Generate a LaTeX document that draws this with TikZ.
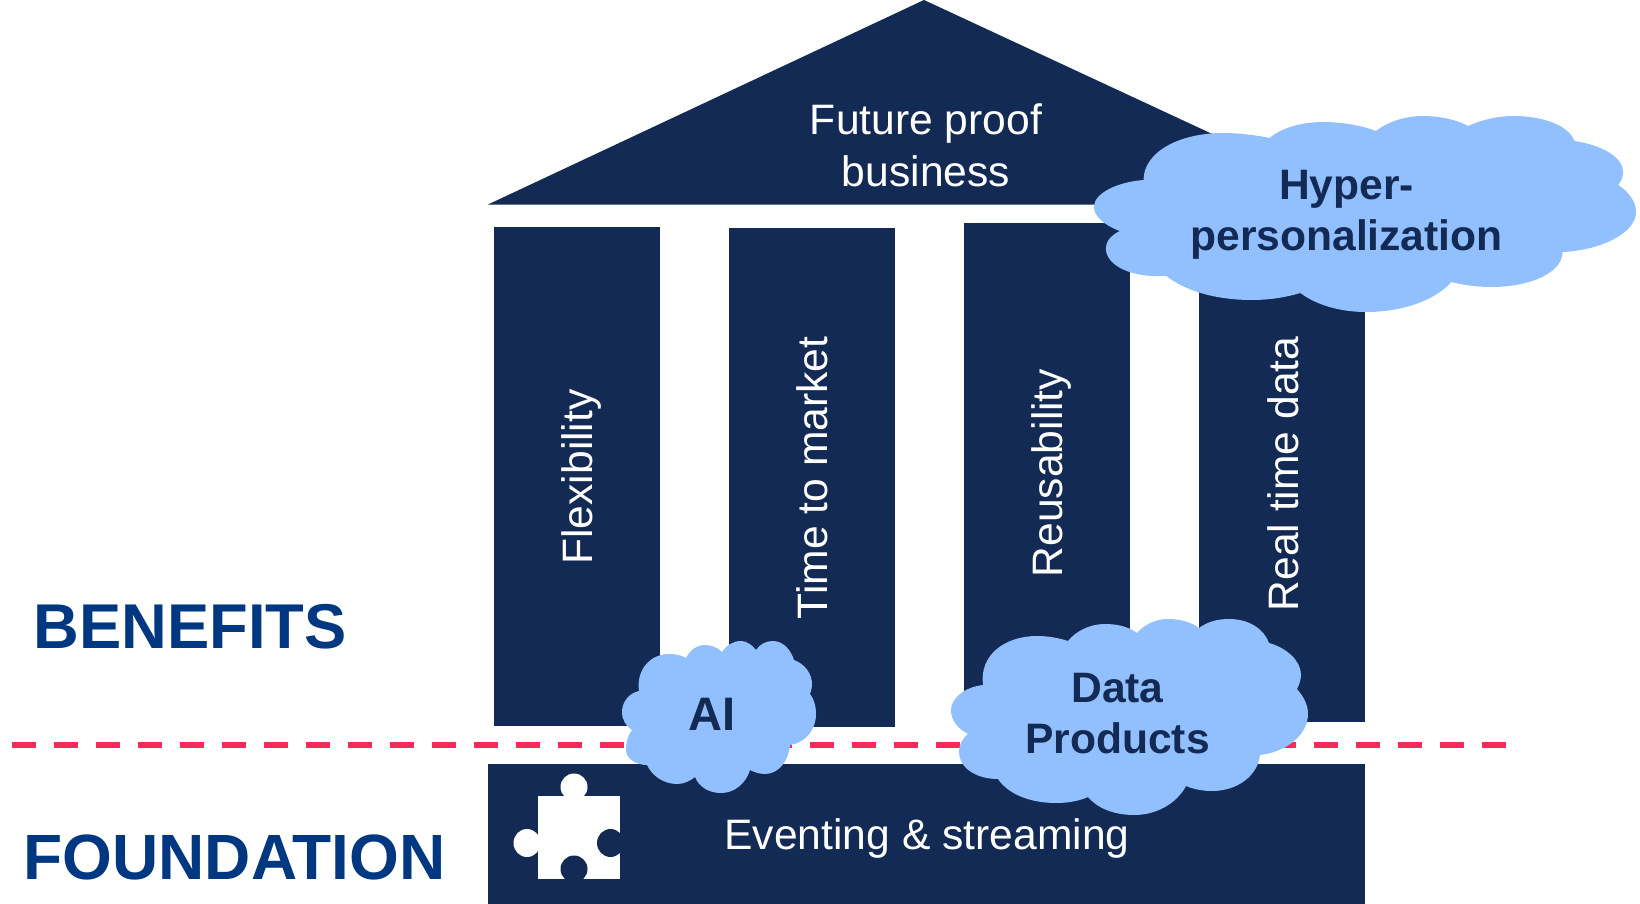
\documentclass[tikz,border=0pt]{standalone}
\usepackage{fontspec}
\setmainfont{Liberation Sans}
\definecolor{navy}{HTML}{132A54}
\definecolor{cloudblue}{HTML}{92C0FF}
\definecolor{headblue}{HTML}{003781}
\definecolor{dashred}{HTML}{F72B5A}
\tikzset{
  navyfill/.style={fill=navy,draw=none},
  cloudfill/.style={fill=cloudblue,draw=none},
  lighttext/.style={text=white,font=\fontsize{42.6}{52}\selectfont,align=center,inner sep=0pt},
  cloudtext/.style={text=navy,font=\bfseries\fontsize{42.6}{51}\selectfont,align=center,inner sep=0pt},
  headtext/.style={text=headblue,font=\bfseries\fontsize{64}{70}\selectfont,inner sep=0pt},
}
\begin{document}
\begin{tikzpicture}[x=1pt,y=-1pt]
\useasboundingbox (0,0) rectangle (1640,904);
% roof
\fill[navyfill] (924,0) -- (1364,204.5) -- (488,204.5) -- cycle;
% pillars
\fill[navyfill] (494,227) rectangle (660,725.5);
\fill[navyfill] (729,228) rectangle (895,726.5);
\fill[navyfill] (964,223) rectangle (1130,722);
\fill[navyfill] (1199,223) rectangle (1365,722);
% foundation
\fill[navyfill] (488,764) rectangle (1365,904);
% puzzle piece
\fill[white] (538,796) rectangle (620,879);
\fill[white] (574,787) ellipse (13.5 and 13.5);
\fill[white] (527,843) ellipse (13.5 and 14);
\fill[navy] (610.5,843) ellipse (13.5 and 14);
\fill[navy] (574,869) ellipse (13.5 and 13.5);
\fill[navy] (560,879) rectangle (588,884);
\fill[navy] (620,828) rectangle (626,858);
% dashed line
\coordinate (dashL) at (11.5,745);
\coordinate (dashR) at (1507,745);
\draw[dashred,line width=5.5pt,dash pattern=on 24pt off 18pt] (dashL) -- (dashR);
% hyper cloud
\begin{scope}[shift={(1080,0)},xscale=.9929,shift={(-1080,0)}]
\fill[cloudfill] (1144,180)
 .. controls (1144,152) and (1180,133) .. (1224,133)
 .. controls (1240,133) and (1256,135) .. (1271,138)
 .. controls (1284,127) and (1305,122) .. (1325,122)
 .. controls (1345,122) and (1365,126) .. (1378,131)
 .. controls (1390,122) and (1407,116) .. (1425,116)
 .. controls (1443,116) and (1460,120) .. (1471,126)
 .. controls (1484,120) and (1500,116) .. (1517,116)
 .. controls (1545,116) and (1572,125) .. (1578,141)
 .. controls (1605,145) and (1627,157) .. (1627,172)
 .. controls (1627,177) and (1625,181) .. (1622,185)
 .. controls (1633,192) and (1640,202) .. (1640,212)
 .. controls (1640,232) and (1607,250) .. (1566,252)
 .. controls (1566,272) and (1535,287) .. (1494,287)
 .. controls (1480,287) and (1466,285) .. (1454,282)
 .. controls (1438,300) and (1405,312) .. (1368,312)
 .. controls (1342,312) and (1318,305) .. (1302,293)
 .. controls (1288,297) and (1272,300) .. (1253,300)
 .. controls (1215,300) and (1185,290) .. (1167,276)
 .. controls (1130,278) and (1106,265) .. (1106,248)
 .. controls (1106,241) and (1112,235) .. (1120,231)
 .. controls (1104,225) and (1094,216) .. (1094,207)
 .. controls (1094,193) and (1118,182) .. (1144,180) -- cycle;
\end{scope}
% AI cloud
\fill[cloudfill] (639,691)
 .. controls (636,670) and (650,654) .. (669,654)
 .. controls (675,654) and (681,655) .. (686,658)
 .. controls (690,650) and (697,645) .. (705,645)
 .. controls (712,645) and (718,648) .. (722,652)
 .. controls (727,645) and (733,641) .. (741,641)
 .. controls (747,641) and (752,645) .. (756,650)
 .. controls (760,644) and (766,641) .. (773,641)
 .. controls (783,641) and (791,650) .. (794,660)
 .. controls (805,664) and (812,674) .. (812,684)
 .. controls (812,688) and (811,691) .. (810,694)
 .. controls (814,699) and (816,706) .. (816,714)
 .. controls (816,730) and (805,743) .. (790,745)
 .. controls (789,760) and (779,774) .. (765,774)
 .. controls (759,774) and (754,772) .. (750,770)
 .. controls (746,783) and (735,793) .. (721,793)
 .. controls (709,793) and (699,787) .. (695,777)
 .. controls (690,781) and (684,784) .. (677,784)
 .. controls (664,784) and (652,776) .. (647,765)
 .. controls (635,765) and (626,758) .. (626,750)
 .. controls (626,742) and (628,735) .. (632,730)
 .. controls (626,726) and (622,720) .. (622,712)
 .. controls (622,702) and (629,693) .. (639,691) -- cycle;
% data cloud
\fill[cloudfill] (983,685)
 .. controls (979,655) and (1005,636) .. (1037,636)
 .. controls (1048,636) and (1059,638) .. (1068,641)
 .. controls (1076,631) and (1090,624) .. (1105,624)
 .. controls (1118,624) and (1129,627) .. (1137,633)
 .. controls (1144,625) and (1155,619) .. (1168,619)
 .. controls (1180,619) and (1191,622) .. (1199,628)
 .. controls (1207,622) and (1217,619) .. (1229,619)
 .. controls (1249,619) and (1264,629) .. (1269,643)
 .. controls (1287,648) and (1301,661) .. (1301,675)
 .. controls (1301,680) and (1299,685) .. (1297,689)
 .. controls (1303,696) and (1308,704) .. (1308,714)
 .. controls (1308,735) and (1286,752) .. (1260,755)
 .. controls (1258,775) and (1238,791) .. (1212,791)
 .. controls (1202,791) and (1193,789) .. (1186,786)
 .. controls (1177,803) and (1157,815) .. (1134,815)
 .. controls (1114,815) and (1097,808) .. (1088,797)
 .. controls (1079,801) and (1068,803) .. (1056,803)
 .. controls (1030,803) and (1008,794) .. (998,779)
 .. controls (975,779) and (959,767) .. (959,752)
 .. controls (959,745) and (962,739) .. (968,734)
 .. controls (957,728) and (951,720) .. (951,710)
 .. controls (951,698) and (965,687) .. (983,685) -- cycle;
% labels
\node[lighttext] (roof) at (926,145) {Future proof\\business};
\node[lighttext,rotate=90] (flex) at (581,477) {Flexibility};
\node[lighttext,rotate=90] (ttm) at (812,478) {Time to market};
\node[lighttext,rotate=90] (reuse) at (1051.5,473) {Reusability};
\node[lighttext,rotate=90] (rtd) at (1283,474) {Real time data};
\node[lighttext] (event) at (927,838) {Eventing \& streaming};
\node[cloudtext,font=\bfseries\fontsize{47}{51}\selectfont] (ai) at (712,714.5) {AI};
\node[cloudtext] (data) at (1117.5,714) {Data\\Products};
\node[cloudtext] (hyper) at (1346.5,215) {Hyper-\\personalization};
\node[headtext,font=\bfseries\fontsize{63.3}{70}\selectfont] (benefits) at (190,627) {BENEFITS};
\node[headtext] (found) at (234.5,857) {FOUNDATION};
\end{tikzpicture}
\end{document}
